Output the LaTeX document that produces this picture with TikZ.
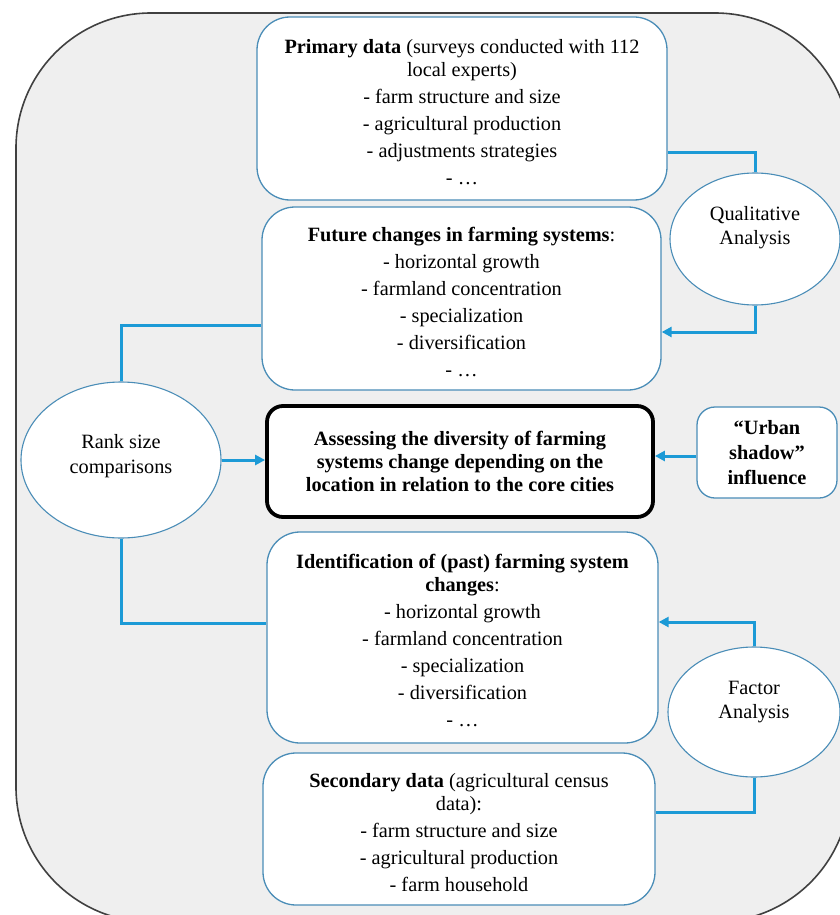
\documentclass[tikz,border=0pt]{standalone}
\usepackage{fontspec}
\setmainfont{Liberation Serif}
\usetikzlibrary{arrows.meta,shapes.geometric}
\definecolor{bgfill}{HTML}{EFEFEF}
\definecolor{bgline}{HTML}{404040}
\definecolor{boxline}{HTML}{4A8DB7}
\definecolor{connblue}{HTML}{1C9AD6}
\newcommand{\toppad}{\rule{0pt}{21pt}}
\tikzset{
  x=1pt,y=-1pt,
  txt/.style={font=\fontsize{20.3}{23}\selectfont, align=center, inner sep=0pt},
  bigbox/.style={draw=boxline, line width=1.3pt, fill=white, rounded corners=33pt, inner sep=0pt},
  smallbox/.style={draw=boxline, line width=1.3pt, fill=white, rounded corners=18pt, inner sep=0pt},
  mainbox/.style={draw=black, line width=3.8pt, fill=white, rounded corners=16pt, inner sep=0pt},
  oval/.style={ellipse, draw=boxline, line width=1.1pt, fill=white, inner sep=0pt},
  conn/.style={draw=connblue, line width=3pt},
  arr/.style={conn, -{Triangle[length=10pt,width=10pt]}},
}
\begin{document}
\begin{tikzpicture}
\useasboundingbox (0,0) rectangle (839,915);
\fill[bgfill, draw=bgline, line width=1.6pt, rounded corners=135pt] (16,13) rectangle (850,922);

% boxes
\node[bigbox, minimum width=410pt, minimum height=183pt, txt] (prim) at (462,108.5)
  {\toppad\textbf{Primary data} (surveys conducted with 112\\ local experts)\\[4pt]
   - farm structure and size\\[4pt] - agricultural production\\[4pt]
   - adjustments strategies\\[4pt] - …};
\node[bigbox, minimum width=399pt, minimum height=183pt, txt] (fut) at (461.5,298.5)
  {\toppad\textbf{Future changes in farming systems}:\\[4pt]
   - horizontal growth\\[4pt] - farmland concentration\\[4pt]
   - specialization\\[4pt] - diversification\\[4pt] - …};
\node[mainbox, minimum width=386pt, minimum height=111pt, txt, font=\fontsize{20.3}{23}\selectfont\bfseries] (cen) at (460,461.5)
  {Assessing the diversity of farming\\ systems change depending on the\\ location in relation to the core cities};
\node[smallbox, minimum width=140pt, minimum height=91pt, txt, font=\fontsize{20.3}{25}\selectfont\bfseries] (urb) at (767,452.5)
  {“Urban\\ shadow”\\ influence};
\node[bigbox, minimum width=391pt, minimum height=211pt, txt] (ident) at (462.5,637.5)
  {\toppad\textbf{Identification of (past) farming system}\\ \textbf{changes}:\\[4pt]
   - horizontal growth\\[4pt] - farmland concentration\\[4pt]
   - specialization\\[4pt] - diversification\\[4pt] - …};
\node[bigbox, minimum width=392pt, minimum height=152pt, txt] (sec) at (459,829)
  {\toppad\textbf{Secondary data} (agricultural census\\ data):\\[4pt]
   - farm structure and size\\[4pt] - agricultural production\\[4pt]
   - farm household};

% ellipses
\node[oval, minimum width=170pt, minimum height=132pt] (qa) at (755,239) {};
\node[txt, font=\fontsize{20.3}{24}\selectfont] (qat) at (755,227.5) {Qualitative\\ Analysis};
\node[oval, minimum width=200pt, minimum height=156pt] (rank) at (121,460) {};
\node[txt, font=\fontsize{20.3}{25}\selectfont] (rankt) at (121,456) {Rank size\\ comparisons};
\node[oval, minimum width=172pt, minimum height=130pt] (fa) at (754,712) {};
\node[txt, font=\fontsize{20.3}{24}\selectfont] (fat) at (754,702.5) {Factor\\ Analysis};

% connectors
\draw[conn] ([yshift=-43.5pt]prim.east) -| (qa.north);
\draw[arr] (qa.south) |- ([yshift=-33.5pt]fut.east);
\draw[conn] (rank.north) |- ([yshift=-26.5pt]fut.west);
\draw[arr] (rank.east) -- (rank.east -| cen.west);
\draw[conn] (rank.south) |- ([yshift=14.5pt]ident.west);
\draw[arr] (fa.north) |- ([yshift=15.5pt]ident.east);
\draw[conn] (fa.south) |- ([yshift=17pt]sec.east);
\draw[arr] ([yshift=-3.5pt]urb.west) -- ([yshift=-3.5pt]urb.west -| cen.east);
\end{tikzpicture}
\end{document}
